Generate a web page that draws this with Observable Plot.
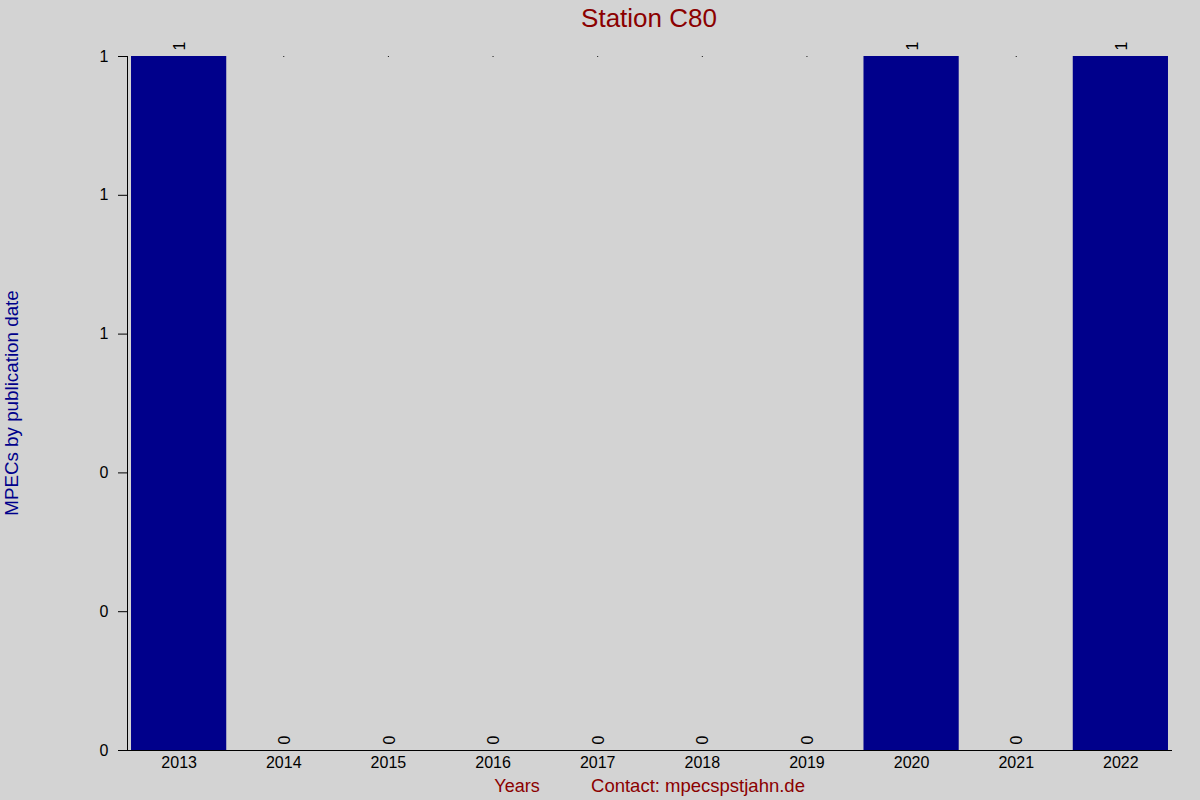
<!DOCTYPE html>
<html>
<head>
<meta charset="utf-8">
<script src="https://cdn.jsdelivr.net/npm/d3@7"></script>
<script src="https://cdn.jsdelivr.net/npm/@observablehq/plot@0.6"></script>
<style>
  html, body { margin: 0; padding: 0; background: #d3d3d3; }
  #chart { width: 1200px; height: 800px; }
  svg { font-family: "Liberation Sans", Arial, sans-serif; }
</style>
</head>
<body>
<div id="chart"></div>
<script>
const years = ["2013","2014","2015","2016","2017","2018","2019","2020","2021","2022"];
const counts = [1,0,0,0,0,0,0,1,0,1];
const yTicks = [0,0.2,0.4,0.6,0.8,1];
const yTickLabels = ["0","0","0","1","1","1"];
const title = "Station C80";
const yLabel = "MPECs by publication date";
const xLabel = "Years";
const contact = "Contact: mpecspstjahn.de";

const data = years.map((y, i) => ({year: y, value: counts[i]}));
const yMax = 1;

const plot = Plot.plot({
  width: 1200,
  height: 800,
  marginLeft: 127,
  marginRight: 28,
  marginTop: 56,
  marginBottom: 50,
  style: {background: "#d3d3d3", fontFamily: "Liberation Sans, Arial, sans-serif", fontSize: "16px", color: "#000"},
  x: {domain: years, range: [121.6, 1177.4], padding: 0.09, round: false, label: null},
  y: {domain: [0, yMax], label: null},
  marks: [
    Plot.barY(data, {x: "year", y: "value", fill: "#00008b"}),
    Plot.ruleY([0], {stroke: "#000"}),
    Plot.frame({anchor: "left", stroke: "#000"}),
    Plot.axisY({ticks: yTicks, tickFormat: (d) => yTickLabels[yTicks.indexOf(d)], tickSize: 9, tickPadding: 10, fontSize: 16, label: null, stroke: "#000"}),
    Plot.axisX({tickSize: 0, tickPadding: 6, fontSize: 16, label: null}),
    Plot.dot(data.filter(d => d.value === 0), {x: "year", y: () => yMax, r: 0.6, fill: "#000", stroke: null}),
    Plot.text(data, {x: "year", y: "value", text: d => String(d.value), rotate: -90, textAnchor: "start", lineAnchor: "middle", dx: 1, dy: -6, fontSize: 16, fill: "#000"})
  ]
});

document.getElementById("chart").appendChild(plot);
const svg = d3.select(plot);
svg.append("text").attr("x", 649).attr("y", 27).attr("text-anchor", "middle")
  .attr("fill", "#8b0000").attr("font-size", 26).text(title);
svg.append("text").attr("transform", "translate(18,403) rotate(-90)").attr("text-anchor", "middle")
  .attr("fill", "#00008b").attr("font-size", 18.8).text(yLabel);
svg.append("text").attr("x", 517).attr("y", 792).attr("text-anchor", "middle")
  .attr("fill", "#8b0000").attr("font-size", 18).text(xLabel);
svg.append("text").attr("x", 698).attr("y", 792).attr("text-anchor", "middle")
  .attr("fill", "#8b0000").attr("font-size", 18.5).text(contact);
</script>
</body>
</html>
